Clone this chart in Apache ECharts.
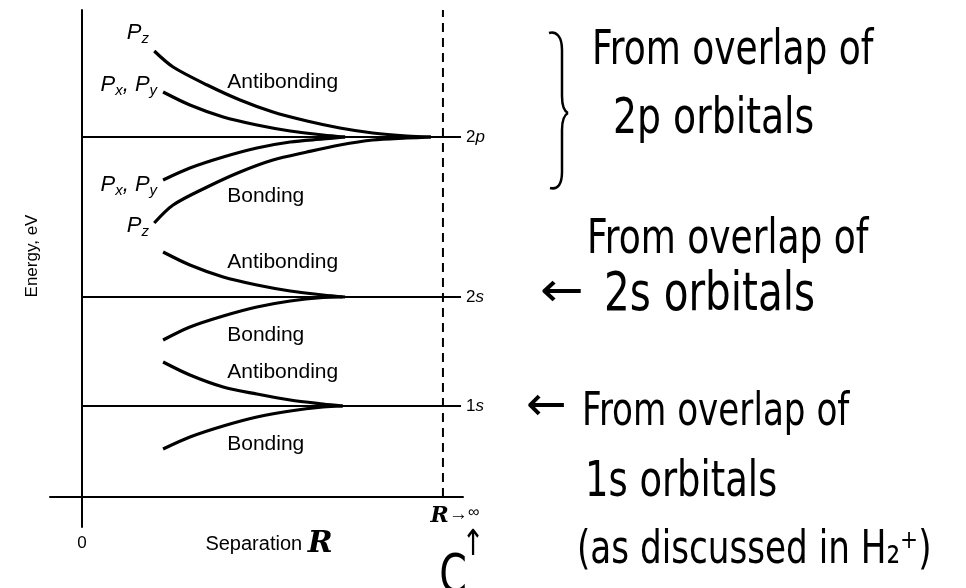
<!DOCTYPE html>
<html>
<head>
<meta charset="utf-8">
<script src="https://cdn.jsdelivr.net/npm/echarts@6/dist/echarts.min.js"></script>
<style>
  html, body { margin: 0; padding: 0; background: #fff; }
  #chart { width: 966px; height: 588px; }
</style>
</head>
<body>
<div id="chart"></div>
<script>
// Atomic energy levels at infinite separation (schematic energy units)
const levelNames = ['1s', '2s', '2p'];
const levelEnergy = [9.1, 20.0, 36.0];
const levelEndR = 9.45;
const rInfinity = 9;
const energyTop = 48.7;

// Separation axis tick labels
const xTickValues = [0, 9];
const xTickLabels = ['0', 'R→∞'];

// Molecular orbital energies versus separation, [R, E]
const pzAntibonding = [[1.80, 44.6], [2.27, 43.0], [3.12, 41.2], [3.94, 39.7], [4.76, 38.5], [5.61, 37.6], [6.43, 36.9], [7.25, 36.4], [8.10, 36.1], [8.70, 36.0]];
const pxyAntibonding = [[2.02, 40.5], [2.69, 39.2], [3.52, 38.0], [4.36, 37.2], [5.19, 36.6], [6.01, 36.2], [6.56, 36.0]];
const pxyBonding = [[2.02, 31.7], [2.69, 32.9], [3.52, 34.0], [4.36, 34.9], [5.19, 35.5], [6.01, 35.8], [6.56, 36.0]];
const pzBonding = [[1.80, 27.4], [2.27, 29.2], [3.12, 31.0], [3.94, 32.5], [4.76, 33.7], [5.61, 34.5], [6.43, 35.2], [7.25, 35.7], [8.10, 35.9], [8.70, 36.0]];
const s2Antibonding = [[2.02, 24.5], [2.69, 23.2], [3.52, 22.0], [4.36, 21.2], [5.19, 20.6], [6.01, 20.2], [6.56, 20.0]];
const s2Bonding = [[2.02, 15.7], [2.69, 17.0], [3.52, 18.1], [4.36, 19.0], [5.19, 19.6], [6.01, 19.95], [6.50, 20.0]];
const s1Antibonding = [[2.02, 13.5], [2.69, 12.2], [3.52, 11.0], [4.36, 10.3], [5.19, 9.7], [6.01, 9.3], [6.50, 9.1]];
const s1Bonding = [[2.02, 4.8], [2.69, 6.0], [3.52, 7.1], [4.36, 8.0], [5.19, 8.6], [6.01, 9.0], [6.50, 9.1]];

// Region names and where they sit, [R, E]
const regionNames = ['Antibonding', 'Bonding', 'Antibonding', 'Bonding', 'Antibonding', 'Bonding'];
const regionAt = [[3.62, 41.5], [3.62, 30.1], [3.62, 23.5], [3.62, 16.2], [3.62, 12.5], [3.62, 5.3]];

// Orbital tags at the start of the 2p curves, [R, E]
const orbitalTags = ['{p|P}{s|z}', '{p|P}{s|x}{p|, P}{s|y}', '{p|P}{s|x}{p|, P}{s|y}', '{p|P}{s|z}'];
const orbitalTagAt = [[1.67, 46.4], [1.87, 41.2], [1.87, 31.2], [1.67, 27.1]];

const PRINT = '"Liberation Sans", Arial, sans-serif';
const HAND = '"Liberation Sans Narrow", "DejaVu Sans Condensed", sans-serif';
const SCRIPT_R = '"DejaVu Serif", serif';

const curves = [pzAntibonding, pxyAntibonding, pxyBonding, pzBonding,
                s2Antibonding, s2Bonding, s1Antibonding, s1Bonding];

const series = [];

levelNames.forEach((name, i) => {
  series.push({
    type: 'line',
    data: [[0, levelEnergy[i]], [levelEndR, levelEnergy[i]]],
    showSymbol: false,
    lineStyle: { color: '#000', width: 2 },
    endLabel: {
      show: true,
      distance: 5,
      formatter: () => '{n|' + name.slice(0, 1) + '}{i|' + name.slice(1) + '}',
      rich: {
        n: { fontFamily: PRINT, fontSize: 17, color: '#000' },
        i: { fontFamily: PRINT, fontSize: 17, fontStyle: 'italic', color: '#000' }
      }
    },
    silent: true
  });
});

series.push({
  type: 'line',
  data: [[rInfinity, 0], [rInfinity, energyTop]],
  showSymbol: false,
  lineStyle: { color: '#000', width: 2, type: [9, 6] },
  silent: true
});

curves.forEach(d => {
  series.push({
    type: 'line',
    data: d,
    smooth: 0.3,
    showSymbol: false,
    lineStyle: { color: '#000', width: 3.2 },
    silent: true
  });
});

series.push({
  type: 'scatter',
  data: regionAt.map((p, i) => ({ value: p, name: regionNames[i] })),
  symbolSize: 0,
  itemStyle: { color: '#000', opacity: 1 },
  label: {
    show: true,
    position: 'right',
    distance: 0,
    formatter: p => p.name,
    fontFamily: PRINT,
    fontSize: 21,
    color: '#000',
    opacity: 1,
    textBorderWidth: 0
  },
  silent: true
});

series.push({
  type: 'scatter',
  data: orbitalTagAt.map((p, i) => ({ value: p, name: orbitalTags[i] })),
  symbolSize: 0,
  itemStyle: { color: '#000', opacity: 1 },
  label: {
    show: true,
    position: 'left',
    distance: 0,
    opacity: 1,
    textBorderWidth: 0,
    formatter: p => p.name,
    rich: {
      p: { fontFamily: PRINT, fontSize: 22, fontStyle: 'italic', color: '#000', lineHeight: 26, verticalAlign: 'middle' },
      s: { fontFamily: PRINT, fontSize: 15, fontStyle: 'italic', color: '#000', lineHeight: 6, verticalAlign: 'bottom' }
    }
  },
  silent: true
});

// Hand-drawn curly brace grouping the 2p levels
const braceStroke = { stroke: '#000', lineWidth: 2.5, fill: null };
const brace = [
  { type: 'bezierCurve', shape: { x1: 549, y1: 33, cpx1: 556, cpy1: 31, cpx2: 562, cpy2: 36, x2: 562, y2: 50 } },
  { type: 'line', shape: { x1: 562, y1: 50, x2: 562, y2: 96 } },
  { type: 'bezierCurve', shape: { x1: 562, y1: 96, cpx1: 562, cpy1: 106, cpx2: 564, cpy2: 111, x2: 568, y2: 113 } },
  { type: 'bezierCurve', shape: { x1: 568, y1: 113, cpx1: 564, cpy1: 115, cpx2: 562, cpy2: 120, x2: 562, y2: 130 } },
  { type: 'line', shape: { x1: 562, y1: 130, x2: 562, y2: 172 } },
  { type: 'bezierCurve', shape: { x1: 562, y1: 172, cpx1: 562, cpy1: 184, cpx2: 558, cpy2: 190, x2: 550, y2: 188 } }
].map(e => Object.assign(e, { style: braceStroke, silent: true }));

function note(text, x, y, size, extra, sx) {
  return {
    type: 'text', x: x, y: y, scaleX: sx || 1, scaleY: 1.2, silent: true,
    style: Object.assign({ text: text, font: size + 'px ' + HAND, fill: '#000', verticalAlign: 'middle' }, extra || {})
  };
}

const notes = [
  note('From overlap of', 592, 52, 40),
  note('2p orbitals', 613, 120, 42),
  note('From overlap of', 587, 241, 40),
  note('←', 540, 294, 40, null, 1.45),
  note('2s orbitals', 604, 296, 45),
  note('←', 526, 408, 40, null, 1.35),
  note('From overlap of', 582, 413, 38),
  note('1s orbitals', 585, 483, 41),
  note('(as discussed in H₂⁺)', 577, 551, 38),
  note('↑', 473, 546, 30, { align: 'center' }),
  note('C', 453, 578, 44, { align: 'center' })
];

const chart = echarts.init(document.getElementById('chart'), null, { renderer: 'canvas' });

chart.setOption({
  backgroundColor: '#fff',
  animation: false,
  grid: { left: 50, right: 503, top: 10, bottom: 61, outerBoundsMode: 'none' },
  xAxis: {
    type: 'value',
    min: -0.8,
    max: 9.5,
    axisLine: { show: true, onZero: true, lineStyle: { color: '#000', width: 2 } },
    axisTick: { show: false },
    splitLine: { show: false },
    axisLabel: {
      show: true,
      customValues: xTickValues,
      margin: -22,
      formatter: v => {
        const t = xTickLabels[xTickValues.indexOf(v)];
        if (t === '0') return '{z|0}';
        return '{r|R}{a|' + t.slice(1, 2) + '}{f|' + t.slice(2) + '}';
      },
      rich: {
        z: { fontFamily: PRINT, fontSize: 17, color: '#000', padding: [30, 0, 0, 0] },
        r: { fontFamily: SCRIPT_R, fontSize: 22, fontStyle: 'italic', fontWeight: 'bold', color: '#000', padding: [0, 0, 0, 24] },
        a: { fontFamily: PRINT, fontSize: 19, color: '#000', verticalAlign: 'top', lineHeight: 14 },
        f: { fontFamily: PRINT, fontSize: 16, color: '#000', verticalAlign: 'top', lineHeight: 14 }
      }
    },
    name: 'Separation {r|R}',
    nameLocation: 'middle',
    nameGap: 2,
    nameMoveOverlap: false,
    nameTextStyle: {
      fontFamily: PRINT,
      fontSize: 20,
      color: '#000',
      padding: [0, 0, 0, 25],
      rich: {
        r: { fontFamily: SCRIPT_R, fontSize: 30, fontStyle: 'italic', fontWeight: 'bold', color: '#000' }
      }
    }
  },
  yAxis: {
    type: 'value',
    min: -3,
    max: energyTop,
    axisLine: { show: true, onZero: true, lineStyle: { color: '#000', width: 2 } },
    axisTick: { show: false },
    axisLabel: { show: false },
    splitLine: { show: false },
    name: 'Energy, eV',
    nameLocation: 'middle',
    nameRotate: 90,
    nameGap: 9,
    nameMoveOverlap: false,
    nameTextStyle: { fontFamily: PRINT, fontSize: 17, color: '#000', padding: [0, 0, 0, 25] }
  },
  series: series,
  graphic: brace.concat(notes)
});
</script>
</body>
</html>
